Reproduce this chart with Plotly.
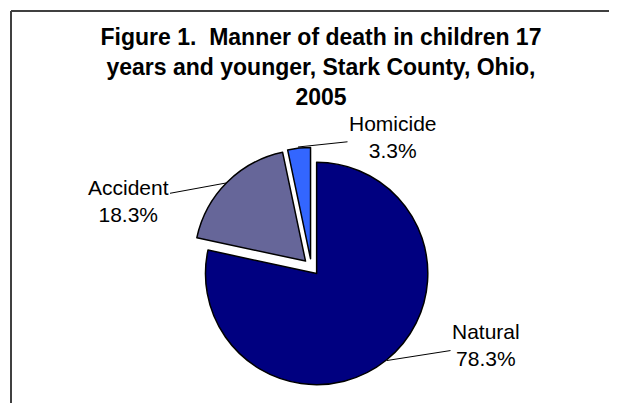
import plotly.graph_objects as go

categories = ["Natural", "Accident", "Homicide"]
percent_values = [78.3, 18.3, 3.3]
value_labels = ["78.3%", "18.3%", "3.3%"]
slice_colors = ["#000080", "#666699", "#3366FF"]

title_text = "Figure 1.  Manner of death in children 17<br>years and younger, Stark County, Ohio,<br>2005"

OFF = 8  # page body margin
W, H = 617 - OFF, 403 - OFF

def px(x):
    return (x - OFF) / W

def py(y):
    return 1 - (y - OFF) / H

# pie box (page pixels)
cx, cy, box = 311.4, 267.0, 239.0

fig = go.Figure()
fig.add_trace(go.Pie(
    labels=categories,
    values=percent_values,
    sort=False,
    direction="clockwise",
    rotation=0,
    pull=[0.075, 0.075, 0.075],
    marker=dict(colors=slice_colors, line=dict(color="black", width=1.5)),
    textinfo="none",
    showlegend=False,
    domain=dict(x=[px(cx - box / 2), px(cx + box / 2)],
                y=[py(cy + box / 2), py(cy - box / 2)]),
))

# label anchor points on slice edges and text centres (page pixels)
anchor_pts = [(387.0, 360.5), (226.0, 183.0), (298.0, 147.0)]
text_pts = [(486.0, 345.0), (128.0, 201.0), (393.0, 137.0)]

annotations = []
for cat, lab, (axp, ayp), (tx, ty) in zip(categories, value_labels, anchor_pts, text_pts):
    annotations.append(dict(
        x=px(axp), y=py(ayp), xref="paper", yref="paper",
        text=f"{cat}<br>{lab}",
        showarrow=True, arrowhead=0, arrowwidth=1, arrowcolor="black",
        ax=tx - axp, ay=ty - ayp,
        font=dict(family="Liberation Sans, Arial, sans-serif", size=21, color="black"),
        align="center",
    ))

fig.update_layout(
    width=W, height=H,
    margin=dict(l=0, r=0, t=0, b=0),
    paper_bgcolor="white",
    plot_bgcolor="white",
    title=dict(
        text=title_text,
        x=px(321), xanchor="center",
        y=py(45), yanchor="top",
        font=dict(family="Liberation Sans, Arial, sans-serif", size=23, color="black", weight="bold"),
    ),
    annotations=annotations,
    shapes=[
        dict(type="line", xref="paper", yref="paper",
             x0=px(11), x1=px(700), y0=py(11), y1=py(11),
             line=dict(color="#404040", width=2)),
        dict(type="line", xref="paper", yref="paper",
             x0=px(11), x1=px(11), y0=py(11), y1=py(500),
             line=dict(color="#404040", width=2)),
    ],
)

fig.write_html("out.html")
